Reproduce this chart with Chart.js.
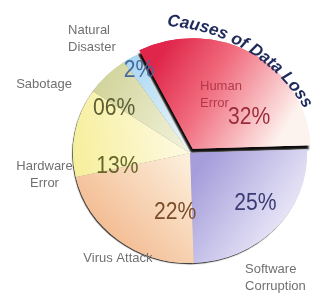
<!DOCTYPE html>
<html><head><meta charset="utf-8">
<script src="https://cdn.jsdelivr.net/npm/chart.js@4"></script>
<style>html,body{margin:0;padding:0;background:#fff;}canvas{display:block;}</style>
</head><body>
<canvas id="c" width="318" height="297"></canvas>
<script>
// ---- data ----
const categories = ['Human Error', 'Software Corruption', 'Virus Attack', 'Hardware Error', 'Sabotage', 'Natural Disaster'];
const values = [32, 25, 22, 13, 6, 2];
const valueLabels = ['32%', '25%', '22%', '13%', '06%', '2%'];
const categoryLines = [['Human', 'Error'], ['Software', 'Corruption'], ['Virus Attack'], ['Hardware', 'Error'], ['Sabotage'], ['Natural', 'Disaster']];
const chartTitle = 'Causes of Data Loss';

// ---- look ----
const SX = 1.064;        // horizontal stretch of the pie (perspective)
const R = 110;
const gradSpecs = [
  {p0: [160, 55], p1: [288, 125], stops: [[0, '#e0264a'], [0.4, '#f06a7c'], [1, '#fdf3ee']]},
  {p0: [205, 160], p1: [305, 220], stops: [[0, '#a59edb'], [1, '#f2f0fb']]},
  {p0: [108, 235], p1: [200, 160], stops: [[0, '#f3bd94'], [1, '#fdf2e0']]},
  {p0: [75, 170], p1: [195, 152], stops: [[0, '#f6ef9c'], [1, '#fefae6']]},
  {p0: [80, 105], p1: [195, 150], stops: [[0, '#cfd296'], [1, '#f3f4e0']]},
  {p0: [125, 52], p1: [195, 150], stops: [[0, '#a3d4f2'], [1, '#f2f8fb']]}
];
const valueColors = ['#9c2b3c', '#3b3b73', '#7a4c2c', '#66652a', '#5d5e34', '#46689e'];
// label anchors: [angle deg from top, radius fraction, align]
const valuePos = [[57.4, 0.599], [129.1, 0.721], [193.4, 0.551], [259.2, 0.631], [302.2, 0.767], [330, 0.871]];
const namePos = [[9.2, 0.534, 'left'], [157.5, 1.23, 'left'], [212.7, 1.14, 'center'], [260.9, 1.259, 'center'], [296.7, 1.396, 'center'], [315, 1.473, 'left']];

function center(chart) {
  const a = chart.chartArea;
  return {cx: (a.left + a.right) / 2, cy: (a.top + a.bottom) / 2};
}

function bg(ctx) {
  const chart = ctx.chart;
  const i = ctx.dataIndex;
  if (!chart.chartArea || i === undefined) return '#ccc';
  const {cx} = center(chart);
  const s = gradSpecs[i];
  const ux = x => cx + (x - cx) / SX;
  const g = chart.ctx.createLinearGradient(ux(s.p0[0]), s.p0[1], ux(s.p1[0]), s.p1[1]);
  s.stops.forEach(st => g.addColorStop(st[0], st[1]));
  return g;
}

function pos(cx, cy, a, k) {
  const r = a * Math.PI / 180;
  return {x: cx + SX * R * k * Math.sin(r), y: cy - R * k * Math.cos(r)};
}

function drawArcText(ctx, text, cx, cy, r, startDeg, spacing) {
  ctx.save();
  ctx.font = 'italic bold 17px "Liberation Sans", Arial, sans-serif';
  ctx.fillStyle = '#1f2a5c';
  ctx.textAlign = 'center';
  ctx.textBaseline = 'alphabetic';
  let ang = startDeg * Math.PI / 180;
  for (const ch of text) {
    const w = ctx.measureText(ch).width;
    const half = (w / 2) / r;
    ang += half;
    ctx.save();
    ctx.translate(cx + r * Math.sin(ang), cy - r * Math.cos(ang));
    ctx.rotate(ang);
    ctx.fillText(ch, 0, 0);
    ctx.restore();
    ang += half + spacing / r;
  }
  ctx.restore();
}

const pieLook = {
  id: 'pieLook',
  beforeDatasetsDraw(chart) {
    const ctx = chart.ctx;
    const arcs = chart.getDatasetMeta(0).data;
    const cx = arcs[0].x, cy = arcs[0].y;
    // shadow pass
    ctx.save();
    ctx.translate(cx, cy); ctx.scale(SX, 1); ctx.translate(-cx, -cy);
    arcs.forEach((arc, i) => {
      ctx.save();
      if (i === 0) {
        ctx.shadowColor = 'rgba(0,0,0,0.95)'; ctx.shadowBlur = 2;
        ctx.shadowOffsetX = -1.5; ctx.shadowOffsetY = 4;
      } else {
        ctx.shadowColor = 'rgba(30,30,30,0.9)'; ctx.shadowBlur = 1;
        ctx.shadowOffsetX = -0.8; ctx.shadowOffsetY = 1.2;
      }
      arc.draw(ctx);
      ctx.restore();
    });
    ctx.restore();
    // stretch for the normal pass
    ctx.save();
    ctx.translate(cx, cy); ctx.scale(SX, 1); ctx.translate(-cx, -cy);
  },
  afterDatasetsDraw(chart) {
    chart.ctx.restore();
  },
  afterDraw(chart) {
    const ctx = chart.ctx;
    const arcs = chart.getDatasetMeta(0).data;
    const cx = arcs[0].x, cy = arcs[0].y;
    // value labels
    ctx.save();
    ctx.textAlign = 'center';
    ctx.textBaseline = 'middle';
    ctx.font = '24px "Liberation Sans Narrow", "Arial Narrow", "Liberation Sans", sans-serif';
    valueLabels.forEach((t, i) => {
      const p = pos(cx, cy, valuePos[i][0], valuePos[i][1]);
      ctx.save();
      ctx.translate(p.x, p.y);
      ctx.scale(0.88, 1);
      ctx.fillStyle = valueColors[i];
      ctx.fillText(t, 0, 0);
      ctx.restore();
    });
    ctx.restore();
    // category names
    ctx.save();
    ctx.font = '13px "Liberation Sans", Arial, sans-serif';
    ctx.textBaseline = 'middle';
    categoryLines.forEach((lines, i) => {
      const [a, k, align] = namePos[i];
      const p = pos(cx, cy, a, k);
      ctx.textAlign = align;
      ctx.fillStyle = i === 0 ? '#b3394a' : '#707070';
      const lh = 17;
      const y0 = p.y - (lines.length - 1) * lh / 2;
      lines.forEach((ln, j) => ctx.fillText(ln, p.x, y0 + j * lh));
    });
    ctx.restore();
    drawArcText(ctx, chartTitle, 158, 197, 171, 3, 0);
  }
};

new Chart(document.getElementById('c'), {
  type: 'pie',
  data: {
    labels: categories,
    datasets: [{
      data: values,
      backgroundColor: bg,
      borderWidth: 0,
      offset: [20, 0, 0, 0, 0, 0],
      clip: false
    }]
  },
  options: {
    responsive: false,
    devicePixelRatio: 1,
    animation: false,
    rotation: -27,
    radius: R,
    layout: {padding: {left: 62, right: 0, top: 9, bottom: 0}},
    plugins: {legend: {display: false}, tooltip: {enabled: false}, title: {display: false}},
    events: []
  },
  plugins: [pieLook]
});
</script>
</body></html>
